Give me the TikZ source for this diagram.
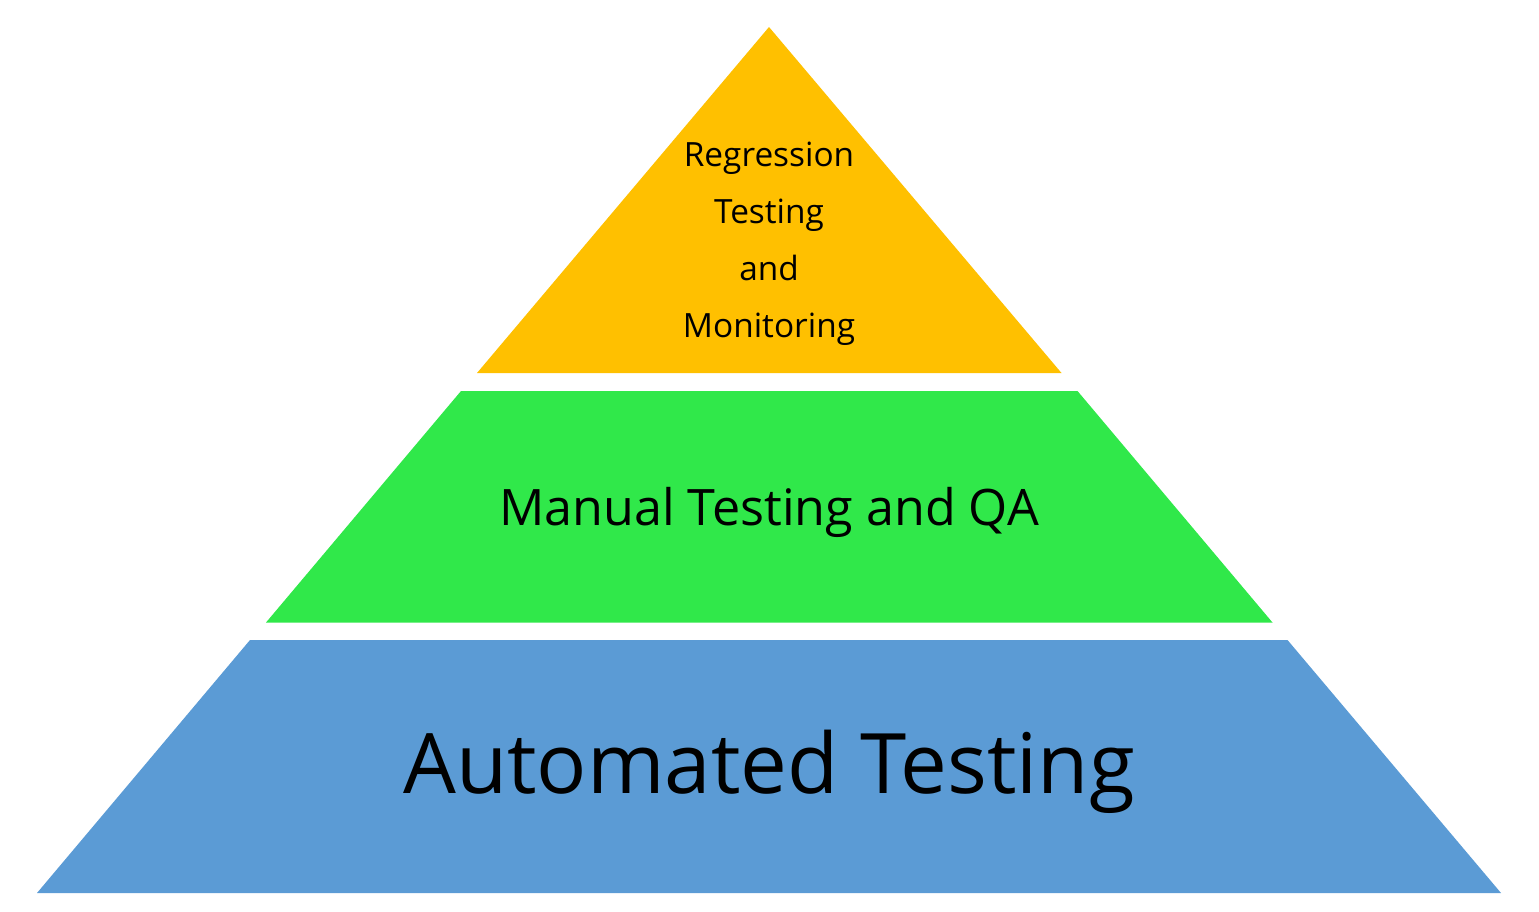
\documentclass[tikz,border=0pt]{standalone}
\usepackage{fontspec}
\setmainfont{Open Sans}
\definecolor{topyellow}{HTML}{FFC000}
\definecolor{midgreen}{HTML}{30E84A}
\definecolor{basblue}{HTML}{5B9BD5}
\begin{document}
\begin{tikzpicture}[
    layer/.style={draw=none},
    lbl/.style={align=center, text=black, inner sep=0pt}
  ]
  \useasboundingbox (0,0) rectangle (15.39,9.11);
  \fill[layer, topyellow] (4.77,5.38) -- (7.69,8.84) -- (10.615,5.38) -- cycle;
  \fill[layer, midgreen] (2.66,2.885) -- (4.61,5.20) -- (10.775,5.20) -- (12.725,2.885) -- cycle;
  \fill[layer, basblue] (0.37,0.18) -- (2.50,2.71) -- (12.875,2.71) -- (15.01,0.18) -- cycle;
  \node[lbl, font=\fontsize{9.5}{16.2}\selectfont] (top) at (7.69,6.67) {Regression\\Testing\\and\\Monitoring};
  \node[lbl, font=\fontsize{14.3}{18}\selectfont] (mid) at (7.69,3.99) {Manual Testing and QA};
  \node[lbl, font=\fontsize{23.75}{30}\selectfont] (bas) at (7.69,1.39) {Automated Testing};
\end{tikzpicture}
\end{document}
